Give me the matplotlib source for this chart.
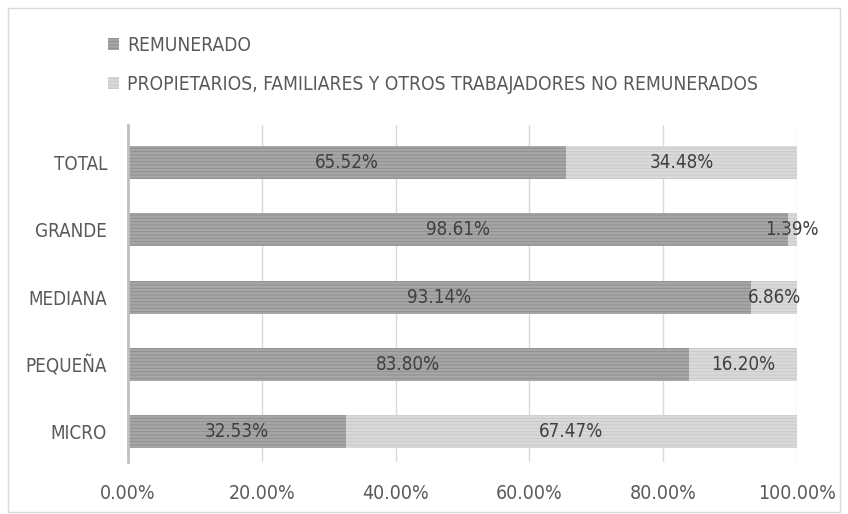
import matplotlib
matplotlib.use("Agg")
import matplotlib.pyplot as plt
from matplotlib.patches import Rectangle

categories = ["MICRO", "PEQUEÑA", "MEDIANA", "GRANDE", "TOTAL"]
remunerado = [32.53, 83.80, 93.14, 98.61, 65.52]
no_remunerado = [67.47, 16.20, 6.86, 1.39, 34.48]
series_names = ["REMUNERADO", "PROPIETARIOS, FAMILIARES Y OTROS TRABAJADORES NO REMUNERADOS"]
xticks = [0, 20, 40, 60, 80, 100]

plt.rcParams['font.family'] = ['DejaVu Sans']
plt.rcParams['font.stretch'] = 'condensed'
plt.rcParams['hatch.linewidth'] = 0.6

txt = "#595959"
c_dark = "#a6a6a6"
c_light = "#d9d9d9"

fig = plt.figure(figsize=(8.48, 5.14), dpi=100)
ax = fig.add_axes([128/848, 1-462/514, (797-128)/848, (462-125)/514])

y = list(range(len(categories)))
plt.rcParams['hatch.color'] = "#8c8c8c"
b1 = ax.barh(y, remunerado, height=0.49, color=c_dark, hatch='-----', edgecolor="#8c8c8c", linewidth=0, label=series_names[0])
b2 = ax.barh(y, no_remunerado, left=remunerado, height=0.49, color=c_light, hatch='-----', edgecolor="#c8c8c8", linewidth=0, label=series_names[1])

for i in y:
    ax.text(remunerado[i]/2, i, f"{remunerado[i]:.2f}%", ha='center', va='center', fontsize=13.5, color="#404040")
    ax.text(remunerado[i] + no_remunerado[i]/2, i, f"{no_remunerado[i]:.2f}%", ha='center', va='center', fontsize=13.5, color="#404040")

ax.set_xlim(0, 100)
ax.set_ylim(-0.45, 4.56)
ax.set_xticks(xticks)
ax.set_xticklabels([f"{v:.2f}%" for v in xticks])
ax.set_yticks(y)
ax.set_yticklabels(categories)
ax.tick_params(axis='both', length=0, labelsize=13.5, labelcolor=txt)
ax.tick_params(axis='x', labelsize=14, pad=16)
ax.tick_params(axis='y', pad=15)
ax.xaxis.grid(True, color="#d9d9d9", linewidth=1)
ax.set_axisbelow(True)
for s in ['top', 'right', 'bottom']:
    ax.spines[s].set_visible(False)
ax.spines['left'].set_color("#bfbfbf")
ax.spines['left'].set_linewidth(2)

leg = fig.legend(handles=[b1, b2], loc='upper left', bbox_to_anchor=(100/848, 1-28/514),
                 frameon=False, fontsize=13.8, labelcolor=txt, handlelength=0.6, handleheight=0.6,
                 handletextpad=0.4, labelspacing=1.05, borderaxespad=0)

fig.patches.append(Rectangle((8/848, 2/514), 832/848, 504/514, transform=fig.transFigure,
                             fill=False, edgecolor="#d9d9d9", linewidth=1))

fig.savefig("out.png", dpi=100)
